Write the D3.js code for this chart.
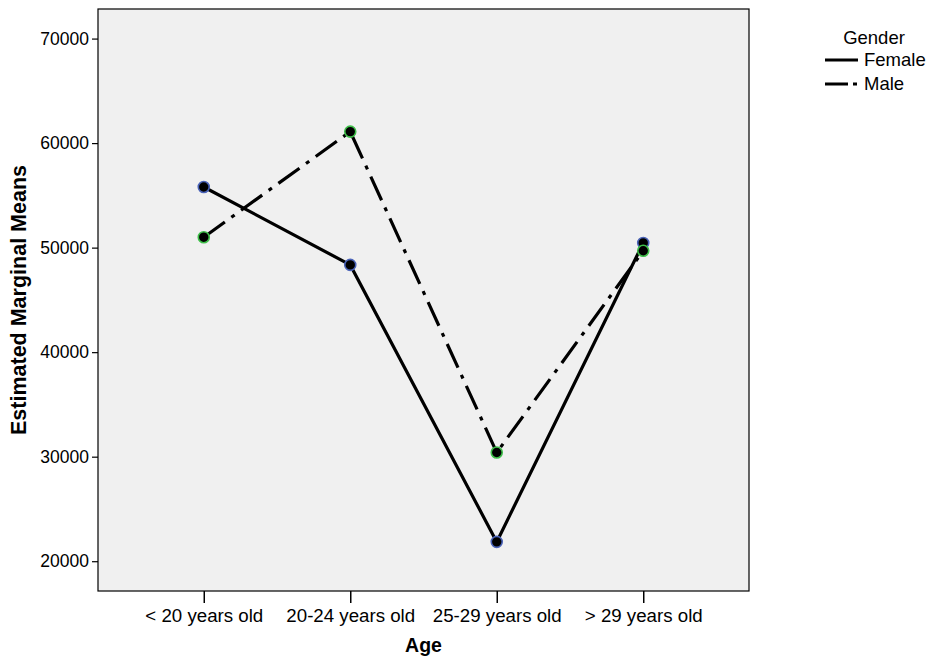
<!DOCTYPE html>
<html>
<head>
<meta charset="utf-8">
<script src="https://cdn.jsdelivr.net/npm/d3@7"></script>
<style>
  body { margin: 0; background: #fff; }
  text { font-family: Arial, "Liberation Sans", sans-serif; }
</style>
</head>
<body>
<svg id="chart" width="930" height="657"></svg>
<script>
const categories = ["< 20 years old", "20-24 years old", "25-29 years old", "> 29 years old"];
const femaleValues = [55800, 48350, 21850, 50450];
const maleValues = [51000, 61100, 30400, 49700];
const yTicks = [20000, 30000, 40000, 50000, 60000, 70000];
const seriesNames = ["Female", "Male"];

const series = [
  { name: seriesNames[0], values: femaleValues, dash: null, legendDash: null, ring: "#4a63b8" },
  { name: seriesNames[1], values: maleValues, dash: "26,8,4,8", legendDash: "23,5,4,10", ring: "#3fbf4a" }
];

const svg = d3.select("#chart");
const L = 98, R = 749, T = 9, B = 591;

const x = d3.scalePoint().domain(categories).range([L, R]).padding(0.722);
const y = d3.scaleLinear().domain([17150, 72830]).range([B, T]);

svg.append("rect").attr("x", L).attr("y", T).attr("width", R - L).attr("height", B - T)
  .attr("fill", "#f0f0f0").attr("stroke", "#000").attr("stroke-width", 1.2);

const yAxis = svg.append("g").attr("transform", `translate(${L},0)`)
  .call(d3.axisLeft(y).tickValues(yTicks).tickSize(6).tickSizeOuter(0).tickPadding(3).tickFormat(d3.format("d")));
yAxis.select(".domain").remove();
yAxis.selectAll("text").attr("font-size", 17.5).attr("fill", "#000");
yAxis.selectAll("line").attr("stroke", "#000").attr("stroke-width", 1.2);

const xAxis = svg.append("g").attr("transform", `translate(0,${B})`)
  .call(d3.axisBottom(x).tickSize(12).tickSizeOuter(0).tickPadding(6));
xAxis.select(".domain").remove();
xAxis.selectAll("text").attr("font-size", 18.7).attr("fill", "#000");
xAxis.selectAll("line").attr("stroke", "#000").attr("stroke-width", 1.5);

svg.append("text").attr("x", (L + R) / 2).attr("y", 652).attr("text-anchor", "middle")
  .attr("font-size", 19.5).attr("font-weight", "bold").text("Age");
svg.append("text").attr("transform", `translate(26,${(T + B) / 2}) rotate(-90)`)
  .attr("text-anchor", "middle").attr("font-size", 21.5).attr("font-weight", "bold")
  .text("Estimated Marginal Means");

const line = d3.line().x((d, i) => x(categories[i])).y(d => y(d));
series.forEach(s => {
  svg.append("path").datum(s.values).attr("d", line).attr("fill", "none")
    .attr("stroke", "#000").attr("stroke-width", 3.2)
    .attr("stroke-dasharray", s.dash);
});
series.forEach(s => {
  svg.append("g").selectAll("circle").data(s.values).join("circle")
    .attr("cx", (d, i) => x(categories[i])).attr("cy", d => y(d)).attr("r", 5.5)
    .attr("fill", "#000").attr("stroke", s.ring).attr("stroke-width", 1.6);
});

// Legend
const lg = svg.append("g");
lg.append("text").attr("x", 874).attr("y", 44).attr("text-anchor", "middle")
  .attr("font-size", 18.5).text("Gender");
series.forEach((s, i) => {
  const yy = 60 + i * 24;
  lg.append("line").attr("x1", 825).attr("x2", 858).attr("y1", yy).attr("y2", yy)
    .attr("stroke", "#000").attr("stroke-width", 3.2).attr("stroke-dasharray", s.legendDash);
  lg.append("text").attr("x", 864).attr("y", yy + 6).attr("font-size", 18.5).text(s.name);
});
</script>
</body>
</html>
